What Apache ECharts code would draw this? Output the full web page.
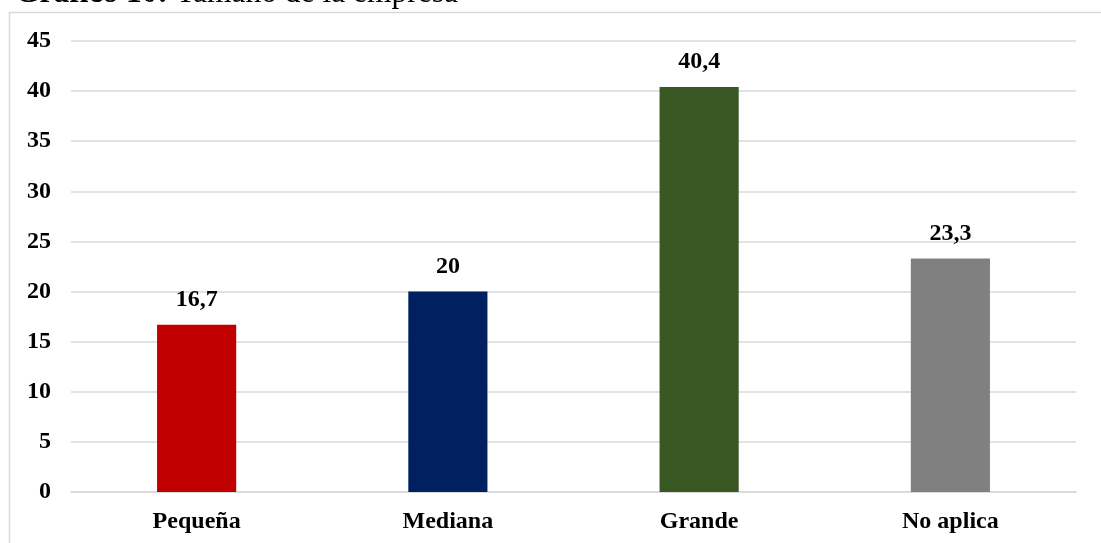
<!DOCTYPE html>
<html>
<head>
<meta charset="utf-8">
<script src="https://cdn.jsdelivr.net/npm/echarts@6/dist/echarts.min.js"></script>
<style>
  html, body { margin: 0; padding: 0; background: #ffffff; }
  #chart { width: 1101px; height: 543px; }
</style>
</head>
<body>
<div id="chart"></div>
<script>
// Tamaño de la empresa (%)
const categories = ['Pequeña', 'Mediana', 'Grande', 'No aplica'];
const values = [16.7, 20, 40.4, 23.3];
const barColors = ['#C00000', '#002060', '#385723', '#808080'];
const titleLead = 'Gráfico 10:';
const titleText = 'Tamaño de la empresa';

const FONT = '"Liberation Serif", "Times New Roman", serif';
const GRID = '#d9d9d9';
const TITLE_SIZE = 31.5;
const LABEL_SIZE = 24;

// width of the bold lead-in, so the plain part follows it on the same line
const ctx = document.createElement('canvas').getContext('2d');
ctx.font = 'bold ' + TITLE_SIZE + 'px ' + FONT;
const leadWidth = ctx.measureText(titleLead + ' ').width;

const chart = echarts.init(document.getElementById('chart'));

chart.setOption({
  backgroundColor: '#ffffff',
  animation: false,
  textStyle: { fontFamily: FONT },
  graphic: [
    {
      type: 'rect',
      shape: { x: 9.5, y: 12.5, width: 1200, height: 700 },
      style: { fill: 'none', stroke: GRID, lineWidth: 1.5 },
      silent: true
    },
    {
      type: 'text',
      x: 15,
      y: 9.5,
      style: {
        text: titleLead,
        font: 'bold ' + TITLE_SIZE + 'px ' + FONT,
        fill: '#000',
        verticalAlign: 'bottom'
      },
      silent: true
    },
    {
      type: 'text',
      x: 15 + leadWidth,
      y: 9.5,
      style: {
        text: titleText,
        font: TITLE_SIZE + 'px ' + FONT,
        fill: '#000',
        verticalAlign: 'bottom'
      },
      silent: true
    }
  ],
  grid: { left: 71, right: 25, top: 41, bottom: 51, containLabel: false },
  xAxis: {
    type: 'category',
    data: categories,
    axisLine: { show: true, lineStyle: { color: GRID, width: 1.5 } },
    axisTick: { show: false },
    axisLabel: {
      color: '#000',
      fontFamily: FONT,
      fontSize: LABEL_SIZE,
      fontWeight: 'bold',
      margin: 18
    }
  },
  yAxis: {
    type: 'value',
    min: 0,
    max: 45,
    interval: 5,
    axisLine: { show: false },
    axisTick: { show: false },
    splitLine: { lineStyle: { color: GRID, width: 1.5 } },
    axisLabel: {
      color: '#000',
      fontFamily: FONT,
      fontSize: LABEL_SIZE,
      fontWeight: 'bold',
      margin: 20
    }
  },
  series: [
    {
      type: 'bar',
      barWidth: '31.5%',
      data: values.map((v, i) => ({ value: v, itemStyle: { color: barColors[i] } })),
      label: {
        show: true,
        position: 'top',
        distance: 13,
        color: '#000',
        fontFamily: FONT,
        fontSize: LABEL_SIZE,
        fontWeight: 'bold',
        formatter: p => String(p.value).replace('.', ',')
      }
    }
  ]
});
</script>
</body>
</html>
